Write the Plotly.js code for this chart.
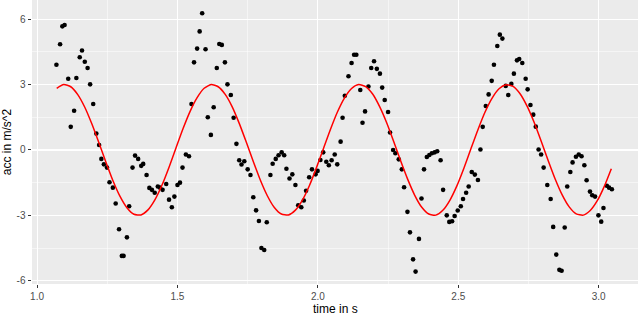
<!DOCTYPE html>
<html>
<head>
<meta charset="utf-8">
<script src="https://cdn.plot.ly/plotly-3.0.1.min.js"></script>
<style>
  html, body { margin: 0; padding: 0; background: #ffffff; }
  #chart { width: 640px; height: 313px; }
</style>
</head>
<body>
<div id="chart"></div>
<script>
// Measured points: time (s) and acceleration (m/s^2)
const timeS = [
  1.069,1.082,1.090,1.098,1.111,1.120,1.132,1.140,1.152,1.160,1.170,1.180,1.189,1.200,1.211,1.221,1.229,1.238,1.249,1.258,
  1.270,1.280,1.292,1.302,1.308,1.320,1.328,1.340,1.349,1.360,1.371,1.378,
  1.390,1.400,1.409,1.419,1.430,1.438,1.447,1.460,1.470,1.480,1.489,1.500,1.509,1.518,1.530,1.541,1.550,1.559,1.570,1.579,
  1.588,1.600,1.608,1.619,1.629,1.640,1.649,1.658,1.669,1.678,1.690,1.700,1.710,1.720,1.728,1.738,
  1.750,1.760,1.770,1.780,1.790,1.799,1.809,1.818,1.831,1.839,1.850,1.860,1.871,1.880,1.888,1.899,1.909,1.920,1.930,1.941,
  1.950,1.958,1.969,1.979,1.992,1.999,2.009,2.019,2.030,2.039,2.049,2.060,2.069,2.081,2.088,2.096,
  2.109,2.120,2.129,2.137,2.151,2.159,2.168,2.180,2.190,2.200,2.210,2.221,2.229,2.238,2.250,2.257,2.268,2.276,2.288,2.299,
  2.307,2.319,2.328,2.339,2.348,2.360,2.369,2.378,2.388,2.397,2.406,2.416,2.425,2.437,2.446,
  2.459,2.468,2.478,2.487,2.498,2.509,2.517,2.528,2.537,2.548,2.559,2.570,2.579,2.587,2.598,2.608,2.619,2.627,2.639,2.648,
  2.657,2.669,2.678,2.689,2.698,2.709,2.717,2.728,2.740,2.747,2.757,2.767,2.776,2.786,2.795,2.804,
  2.817,2.829,2.838,2.849,2.860,2.868,2.879,2.888,2.899,2.907,2.919,2.929,2.939,2.949,2.957,2.969,2.977,2.987,2.999,3.009,
  3.017,3.029,3.037,3.047
];
const accMs2 = [
  3.91,4.85,5.67,5.73,3.27,1.06,1.80,3.30,4.25,4.56,4.05,3.76,3.01,2.11,0.75,0.23,-0.41,-0.66,-0.81,-1.48,
  -1.73,-2.46,-3.64,-4.86,-4.86,-4.01,-2.58,-0.81,-0.26,-0.41,-0.73,-0.64,
  -1.15,-1.74,-1.83,-1.96,-1.68,-1.73,-1.83,-1.56,-2.28,-2.63,-2.14,-1.61,-1.50,-0.81,-0.21,-0.29,2.11,4.02,4.65,5.44,
  6.27,4.62,1.50,0.69,1.96,3.76,4.86,4.82,4.02,3.01,2.52,1.48,0.28,-0.47,-0.67,-0.52,
  -0.89,-1.15,-2.17,-2.77,-3.26,-4.50,-4.59,-3.32,-1.15,-0.63,-0.41,-0.24,-0.11,-0.24,-0.86,-1.31,-1.12,-1.61,-2.54,-2.63,
  -2.32,-1.87,-1.25,-0.89,-1.12,-0.96,-0.46,-0.11,-0.54,-0.70,-0.47,-0.21,-0.66,0.38,1.48,2.49,
  3.38,3.99,4.37,4.37,2.75,1.25,1.77,2.91,3.76,4.07,3.72,3.50,2.86,2.29,1.74,0.80,0.00,-0.15,-0.43,-0.89,
  -1.71,-2.84,-3.78,-5.02,-5.58,-4.08,-2.23,-0.89,-0.32,-0.23,-0.15,-0.11,-0.06,-0.47,-1.83,
  -3.00,-3.30,-3.27,-3.03,-2.78,-2.58,-2.25,-1.96,-1.68,-1.01,-1.13,-1.38,0.02,1.06,2.02,2.55,3.17,3.91,4.77,5.29,
  5.11,2.94,2.52,3.03,3.50,4.11,4.17,3.99,3.27,2.78,2.06,1.62,1.07,0.02,-0.21,-0.81,
  -1.61,-2.25,-3.53,-4.80,-5.50,-5.54,-3.56,-1.68,-1.01,-0.57,-0.31,-0.21,-0.29,-0.70,-1.39,-1.91,-2.08,-2.14,-3.00,-3.29,
  -2.66,-1.64,-1.73,-1.80
];

// Fitted curve (red), read at regular times
const fitTime = [
  1.070,1.095,1.120,1.145,1.170,1.195,1.220,1.245,1.270,1.295,1.320,1.345,1.370,1.395,1.420,1.445,1.470,1.495,1.520,1.545,
  1.570,1.595,1.620,1.645,1.670,1.695,1.720,1.745,1.770,1.795,1.820,1.845,1.870,1.895,1.920,1.945,1.970,1.995,2.020,2.045,
  2.070,2.095,2.120,2.145,2.170,2.195,2.220,2.245,2.270,2.295,2.320,2.345,2.370,2.395,2.420,2.445,2.470,2.495,2.520,2.545,
  2.570,2.595,2.620,2.645,2.670,2.695,2.720,2.745,2.770,2.795,2.820,2.845,2.870,2.895,2.920,2.945,2.970,2.995,3.020,3.045
];
const fitAcc = [
  2.83,3.00,2.90,2.54,1.96,1.20,0.34,-0.55,-1.40,-2.12,-2.65,-2.95,-2.98,-2.75,-2.28,-1.61,-0.79,0.10,0.98,1.77,
  2.40,2.83,3.00,2.90,2.55,1.98,1.22,0.36,-0.53,-1.38,-2.10,-2.64,-2.94,-2.98,-2.76,-2.30,-1.63,-0.81,0.07,0.95,
  1.75,2.39,2.82,3.00,2.91,2.57,1.99,1.25,0.39,-0.51,-1.35,-2.08,-2.63,-2.94,-2.99,-2.77,-2.31,-1.65,-0.84,0.05,
  0.93,1.73,2.37,2.81,2.99,2.92,2.58,2.01,1.27,0.41,-0.48,-1.33,-2.06,-2.61,-2.93,-2.99,-2.78,-2.33,-1.67,-0.86
];

const xTickVals = [1.0, 1.5, 2.0, 2.5, 3.0];
const xTickText = ["1.0", "1.5", "2.0", "2.5", "3.0"];
const yTickVals = [-6, -3, 0, 3, 6];
const yTickText = ["-6", "-3", "0", "3", "6"];
const xTitle = "time in s";
const yTitle = "acc in m/s^2";

const traces = [
  {
    x: timeS, y: accMs2, type: "scatter", mode: "markers",
    marker: { color: "#000000", size: 4.6 },
    hoverinfo: "skip"
  },
  {
    x: fitTime, y: fitAcc, type: "scatter", mode: "lines",
    line: { color: "#FF0000", width: 1.5, shape: "spline", smoothing: 0.6 },
    hoverinfo: "skip"
  }
];

const tickFont = { family: "Liberation Sans, Arial, sans-serif", size: 10, color: "#4D4D4D" };
const titleFont = { family: "Liberation Sans, Arial, sans-serif", size: 12, color: "#000000" };

const layout = {
  width: 640, height: 313,
  margin: { l: 32, r: 2, t: 0, b: 29, pad: 0 },
  paper_bgcolor: "#FFFFFF",
  plot_bgcolor: "#EBEBEB",
  showlegend: false,
  hovermode: false,
  xaxis: {
    range: [0.982, 3.140],
    tickmode: "array", tickvals: xTickVals, ticktext: xTickText,
    ticks: "outside", ticklen: 2.5, tickwidth: 1, tickcolor: "#333333",
    tickfont: tickFont,
    showgrid: true, gridcolor: "#FFFFFF", gridwidth: 1.1,
    minor: { tickmode: "linear", tick0: 0.75, dtick: 0.5, showgrid: true, gridcolor: "#FFFFFF", gridwidth: 0.5, ticks: "" },
    zeroline: false, showline: false
  },
  yaxis: {
    range: [-6.15, 6.88],
    tickmode: "array", tickvals: yTickVals, ticktext: yTickText,
    ticks: "outside", ticklen: 3.5, tickwidth: 1, tickcolor: "#333333",
    tickfont: tickFont,
    showgrid: true, gridcolor: "#FFFFFF", gridwidth: 1.1,
    minor: { tickmode: "linear", tick0: -4.5, dtick: 3, showgrid: true, gridcolor: "#FFFFFF", gridwidth: 0.5, ticks: "" },
    zeroline: false, showline: false,
    title: { text: yTitle, font: titleFont, standoff: 3 }
  },
  annotations: [
    {
      text: xTitle, font: titleFont, showarrow: false, borderpad: 0,
      xref: "paper", yref: "paper", x: 0.5, y: 0,
      xanchor: "center", yanchor: "bottom", yshift: -33
    }
  ]
};

Plotly.newPlot("chart", traces, layout, { staticPlot: true, displayModeBar: false });
</script>
</body>
</html>
